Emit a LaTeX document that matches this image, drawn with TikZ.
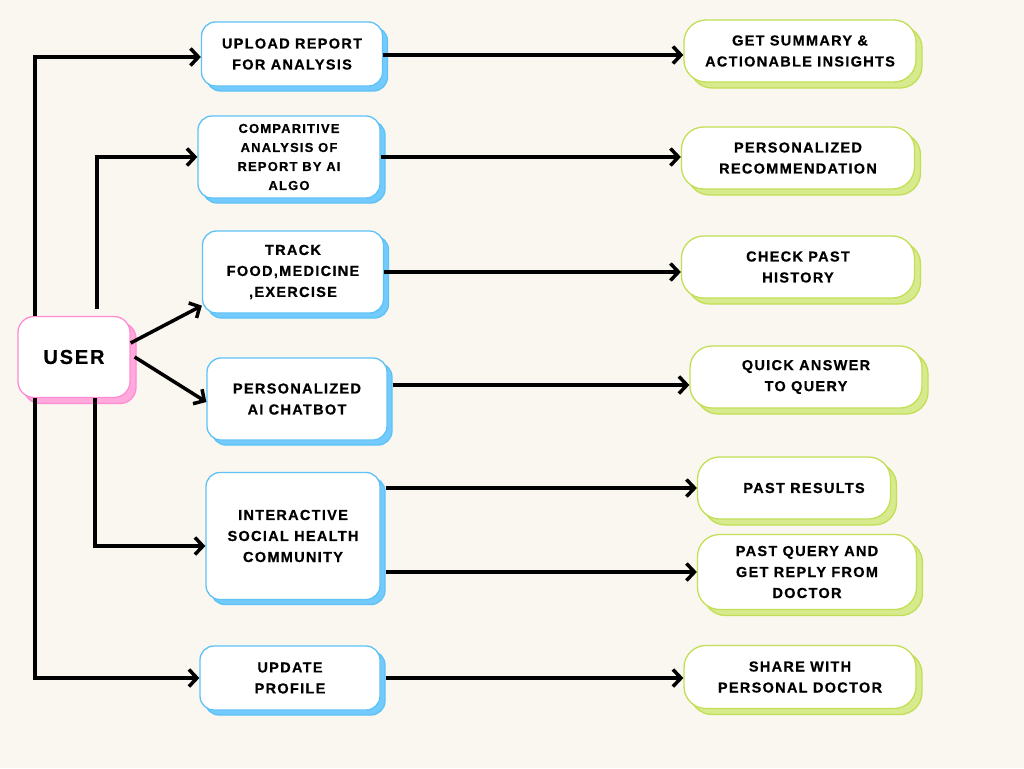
\documentclass[tikz,border=0pt]{standalone}
\usepackage{fontspec}
\setmainfont{Liberation Sans}[LetterSpace=9, BoldFeatures={FakeBold=0.6}]
\usetikzlibrary{arrows.meta,shadows}

\definecolor{bgcream}{HTML}{FAF6F0}
\definecolor{blueline}{HTML}{5EC2F7}
\definecolor{blueshade}{HTML}{72CBFC}
\definecolor{greenline}{HTML}{C2DF55}
\definecolor{greenshade}{HTML}{D7EA8E}
\definecolor{pinkline}{HTML}{FF8CD2}
\definecolor{pinkshade}{HTML}{FFA9DC}

\tikzset{
  base/.style={fill=white, line width=1.3pt, align=center, inner sep=2pt,
    font=\bfseries\fontsize{14.5}{21}\selectfont},
  userbox/.style={base, rounded corners=16pt, draw=pinkline,
    copy shadow={shadow xshift=6pt, shadow yshift=-6pt, fill=pinkshade, draw=pinkline},
    font=\bfseries\fontsize{20}{24}\selectfont},
  taskbox/.style={base, rounded corners=14pt, draw=blueline,
    copy shadow={shadow xshift=5pt, shadow yshift=-5pt, fill=blueshade, draw=blueline}},
  resultbox/.style={base, rounded corners=22pt, draw=greenline,
    copy shadow={shadow xshift=6pt, shadow yshift=-6pt, fill=greenshade, draw=greenline}},
  link/.style={line width=3.5pt, -{Straight Barb[length=8pt, width=17pt, line width=3.5pt]}}
}

\begin{document}
\begin{tikzpicture}[x=1pt, y=-1pt]
  \fill[bgcream] (0,0) rectangle (1024,768);
  \useasboundingbox (0,0) rectangle (1024,768);

  % user
  \node[userbox, minimum width=112pt, minimum height=81pt] (user) at (74,357) {USER};

  % what the user can do
  \node[taskbox, minimum width=181pt, minimum height=64pt] (upload) at (292,54)
    {UPLOAD REPORT\\FOR ANALYSIS};
  \node[taskbox, minimum width=182pt, minimum height=82pt,
    font=\bfseries\fontsize{13}{19}\selectfont] (compare) at (289,157)
    {COMPARITIVE\\ANALYSIS OF\\REPORT BY AI\\ALGO};
  \node[taskbox, minimum width=181pt, minimum height=82pt] (track) at (293,272)
    {TRACK\\FOOD,MEDICINE\\,EXERCISE};
  \node[taskbox, minimum width=180pt, minimum height=82pt] (chatbot) at (297,399)
    {PERSONALIZED\\AI CHATBOT};
  \node[taskbox, minimum width=174pt, minimum height=127pt] (community) at (293,536)
    {INTERACTIVE\\SOCIAL HEALTH\\COMMUNITY};
  \node[taskbox, minimum width=180pt, minimum height=64pt] (profile) at (290,678)
    {UPDATE\\PROFILE};

  % what the user gets
  \node[resultbox, minimum width=232pt, minimum height=62pt] (summary) at (800,51)
    {GET SUMMARY \&\\ACTIONABLE INSIGHTS};
  \node[resultbox, minimum width=233pt, minimum height=62pt] (recommend) at (798,158)
    {PERSONALIZED\\RECOMMENDATION};
  \node[resultbox, minimum width=233pt, minimum height=62pt] (history) at (798,267)
    {CHECK PAST\\HISTORY};
  \node[resultbox, minimum width=232pt, minimum height=62pt] (answer) at (806,377)
    {QUICK ANSWER\\TO QUERY};
  \node[resultbox, minimum width=193pt, minimum height=62pt] (results) at (794,488)
    {\hspace*{20pt}PAST RESULTS};
  \node[resultbox, minimum width=219pt, minimum height=75pt] (reply) at (807,572)
    {PAST QUERY AND\\GET REPLY FROM\\DOCTOR};
  \node[resultbox, minimum width=232pt, minimum height=63pt] (share) at (800,677)
    {SHARE WITH\\PERSONAL DOCTOR};

  % from the user
  \draw[link] ([xshift=-39pt]user.north) |- ([yshift=-3pt]upload.west);
  \draw[link] ([xshift=23pt, yshift=7pt]user.north) |- (compare.west);
  \draw[link] ([yshift=14pt]user.east) -- ([yshift=8pt]track.south west);
  \draw[link] ([xshift=4pt]user.east) -- ([yshift=-3pt]chatbot.west);
  \draw[link] ([xshift=21pt]user.south) |- ([yshift=-10pt]community.west);
  \draw[link] ([xshift=-39pt]user.south) |- (profile.west);

  % to the results
  \draw[link] ([yshift=-1pt]upload.east) coordinate (a) -- (a -| summary.west);
  \draw[link] (compare.east) -- (compare.east -| recommend.west);
  \draw[link] (track.east) -- (track.east -| history.west);
  \draw[link] ([xshift=5pt, yshift=14pt]chatbot.east) coordinate (b) -- (b -| answer.west);
  \draw[link] ([xshift=5pt]community.east |- results.west) -- (results.west);
  \draw[link] ([xshift=5pt]community.east |- reply.west) -- (reply.west);
  \draw[link] ([xshift=5pt]profile.east) -- (profile.east -| share.west);
\end{tikzpicture}
\end{document}
